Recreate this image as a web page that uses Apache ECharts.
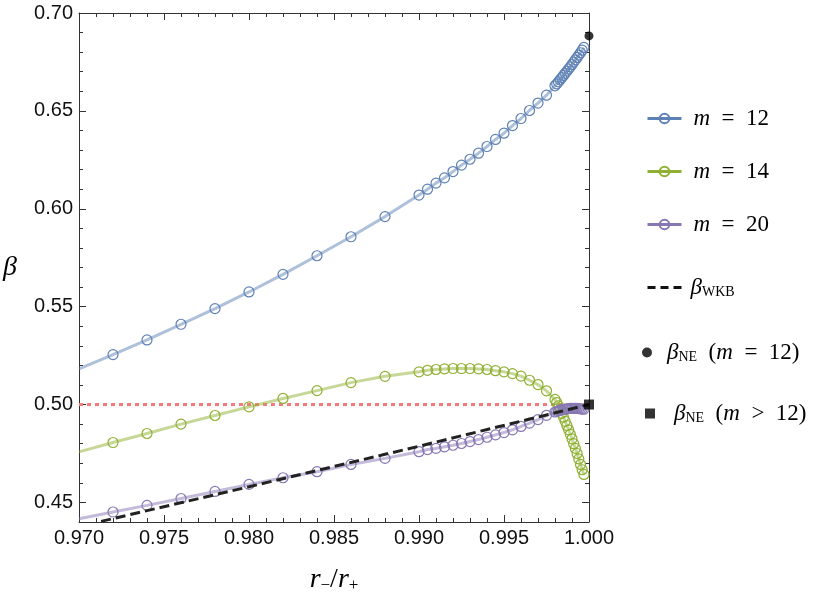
<!DOCTYPE html>
<html>
<head>
<meta charset="utf-8">
<script src="https://cdn.jsdelivr.net/npm/echarts@6/dist/echarts.min.js"></script>
<style>
  html, body { margin: 0; padding: 0; background: #fff; }
  #chart { width: 830px; height: 601px; }
</style>
</head>
<body>
<div id="chart"></div>
<script>
// sample points (same r-/r+ grid for every m)
var xPts = [0.972, 0.974, 0.976, 0.978, 0.980, 0.982, 0.984, 0.986, 0.988, 0.990,
  0.9905, 0.991, 0.9915, 0.992, 0.9925, 0.993, 0.9935, 0.994, 0.9945, 0.995, 0.9955, 0.996, 0.9965, 0.997, 0.9975,
  0.9980, 0.9981, 0.9982, 0.9983, 0.9984, 0.9985, 0.9986, 0.9987, 0.9988, 0.9989,
  0.9990, 0.9991, 0.9992, 0.9993, 0.9994, 0.9995, 0.9996, 0.9997];

var beta12 = [0.5255, 0.5330, 0.5410, 0.5490, 0.5575, 0.5665, 0.5760, 0.5857, 0.5960, 0.6070,
  0.6100, 0.6131, 0.6158, 0.6190, 0.6223, 0.6253, 0.6284, 0.6318, 0.6354, 0.6386, 0.6425, 0.6461, 0.6502, 0.6540, 0.6580,
  0.6628, 0.6638, 0.6648, 0.6659, 0.6670, 0.6681, 0.6692, 0.6703, 0.6714, 0.6725,
  0.6737, 0.6749, 0.6761, 0.6773, 0.6785, 0.6797, 0.6810, 0.6824];

var beta14 = [0.4806, 0.4852, 0.4900, 0.4944, 0.4988, 0.5031, 0.5071, 0.5112, 0.5144, 0.5167,
  0.5175, 0.5179, 0.5182, 0.5184, 0.5184, 0.5184, 0.5182, 0.5179, 0.5173, 0.5167, 0.5158, 0.5145, 0.5124, 0.5102, 0.5070,
  0.5026, 0.5010, 0.4993, 0.4975, 0.4955, 0.4935, 0.4914, 0.4893, 0.4871, 0.4848,
  0.4825, 0.4800, 0.4776, 0.4750, 0.4722, 0.4694, 0.4667, 0.4643];

var beta20 = [0.4451, 0.4485, 0.4520, 0.4556, 0.4592, 0.4626, 0.4657, 0.4694, 0.4725, 0.4759,
  0.4770, 0.4776, 0.4784, 0.4792, 0.4801, 0.4811, 0.4821, 0.4833, 0.4845, 0.4857, 0.4871, 0.4888, 0.4905, 0.4923, 0.4945,
  0.4962, 0.4965, 0.4968, 0.4971, 0.4973, 0.4975, 0.4977, 0.4978, 0.4979, 0.4980,
  0.4980, 0.4980, 0.4980, 0.4980, 0.4979, 0.4978, 0.4977, 0.4976];

// where the fitted curves start at the left frame
var curveStartX = 0.970;
var curveStartY = [0.5182, 0.4758, 0.4417];

var wkbX = [0.9713, 0.980, 0.990, 1.000];
var wkbY = [0.4403, 0.4580, 0.4787, 0.5000];

var halfX = [0.970, 1.000];
var halfY = [0.5, 0.5];

var neDot = [1.000, 0.6883];
var neSquare = [1.000, 0.5000];

var yMajor = [0.45, 0.50, 0.55, 0.60, 0.65, 0.70];
var yMinor = [0.44, 0.46, 0.47, 0.48, 0.49, 0.51, 0.52, 0.53, 0.54, 0.56, 0.57, 0.58, 0.59,
  0.61, 0.62, 0.63, 0.64, 0.66, 0.67, 0.68, 0.69];

var names = ['m12', 'm14', 'm20'];
var mLabels = ['12', '14', '20'];
var colors = ['#5e81b5', '#8fb032', '#8778b3'];
var lineColors = ['rgba(94,129,181,0.5)', 'rgba(143,176,50,0.5)', 'rgba(135,120,179,0.5)'];
var ys = [beta12, beta14, beta20];

var chart = echarts.init(document.getElementById('chart'));

var serif = 'Liberation Serif';
var rich = {
  i: { fontFamily: serif, fontStyle: 'italic', fontSize: 23, lineHeight: 24, color: '#000' },
  n: { fontFamily: serif, fontSize: 23, lineHeight: 24, color: '#000' },
  s: { fontFamily: serif, fontSize: 14, lineHeight: 14, color: '#000', verticalAlign: 'bottom' }
};
var richName = {
  i: { fontFamily: serif, fontStyle: 'italic', fontSize: 28, lineHeight: 28, color: '#000' },
  n: { fontFamily: serif, fontSize: 28, lineHeight: 28, color: '#000' },
  s: { fontFamily: serif, fontSize: 17, lineHeight: 16, color: '#000', verticalAlign: 'bottom' }
};

function legendText(name) {
  if (name === 'wkb') return '{i|β}{s|WKB}';
  if (name === 'ne12') return '{i|β}{s|NE}{n|  (}{i|m}{n|  =  12)}';
  if (name === 'neBig') return '{i|β}{s|NE}{n|  (}{i|m}{n|  >  12)}';
  var k = names.indexOf(name);
  return '{i|m}{n|  =  ' + mLabels[k] + '}';
}

function legendAt(name, left, top, w, h, pad, extra) {
  var l = {
    data: [name], orient: 'vertical', left: left, top: top,
    itemWidth: w, itemHeight: h, selectedMode: false,
    formatter: legendText,
    textStyle: { rich: rich, padding: [0, 0, 0, pad] }
  };
  for (var key in extra) l[key] = extra[key];
  return l;
}

var series = [];

series.push({
  name: 'half', type: 'line', data: halfX.map(function (x, i) { return [x, halfY[i]]; }),
  symbol: 'none', silent: true, z: 1,
  lineStyle: { color: '#f77a7a', width: 3, type: [4, 4] }
});

ys.forEach(function (arr, k) {
  var d = [{ value: [curveStartX, curveStartY[k]], symbol: 'none' }];
  xPts.forEach(function (x, i) { d.push([x, arr[i]]); });
  series.push({
    name: names[k], type: 'line', data: d, z: 2,
    symbol: 'circle', symbolSize: 10, showSymbol: true, showAllSymbol: true,
    lineStyle: { color: lineColors[k], width: 3 },
    itemStyle: { color: 'rgba(255,255,255,0)', borderColor: colors[k], borderWidth: 1.2 },
    emphasis: { disabled: true }
  });
});

series.push({
  name: 'wkb', type: 'line', data: wkbX.map(function (x, i) { return [x, wkbY[i]]; }),
  symbol: 'none', z: 3,
  itemStyle: { color: 'rgba(0,0,0,0)' },
  lineStyle: { color: '#222', width: 3, type: [10, 5] }
});

series.push({
  name: 'ne12', type: 'scatter', data: [neDot], symbol: 'circle', symbolSize: 9, z: 4,
  itemStyle: { color: '#000' }
});
series.push({
  name: 'neBig', type: 'scatter', data: [neSquare], symbol: 'rect', symbolSize: 10, z: 4,
  itemStyle: { color: '#000' }
});

var frame = { show: true, lineStyle: { color: '#333', width: 1 } };
var tickStyle = { color: '#333', width: 1 };

var option = {
  animation: false,
  backgroundColor: '#fff',
  grid: { left: 79, right: 241, top: 13, bottom: 79 },
  legend: [
    legendAt('m12', 641, 102, 34, 12, 7, { lineStyle: { color: colors[0], width: 3 } }),
    legendAt('m14', 641, 155, 34, 12, 7, { lineStyle: { color: colors[1], width: 3 } }),
    legendAt('m20', 641, 208, 34, 12, 7, { lineStyle: { color: colors[2], width: 3 } }),
    legendAt('wkb', 641, 271, 34, 12, 4, {
      lineStyle: { color: '#111', width: 3, type: [8, 5] },
      itemStyle: { color: 'rgba(0,0,0,0)', borderWidth: 0 }
    }),
    legendAt('ne12', 637, 336, 14, 10, 8, {}),
    legendAt('neBig', 640, 397, 10, 10, 14, {})
  ],
  xAxis: [{
    type: 'value', position: 'bottom', min: 0.97, max: 1.0, interval: 0.005,
    axisLine: frame,
    axisTick: { inside: true, length: 7, lineStyle: tickStyle },
    minorTick: { show: true, splitNumber: 5, length: 4, lineStyle: tickStyle },
    splitLine: { show: false },
    axisLabel: {
      formatter: function (v) { return v.toFixed(3); },
      fontFamily: 'Liberation Sans', fontSize: 20, color: '#111', margin: 6
    },
    name: '{i|r}{s|−}{n|/}{i|r}{s|+}',
    nameLocation: 'middle', nameGap: 44,
    nameTextStyle: { rich: richName }
  }, {
    type: 'value', position: 'top', min: 0.97, max: 1.0, interval: 0.005,
    axisLine: frame,
    axisTick: { inside: true, length: 7, lineStyle: tickStyle },
    minorTick: { show: true, splitNumber: 5, length: 4, lineStyle: tickStyle },
    splitLine: { show: false },
    axisLabel: { show: false }
  }],
  yAxis: [{
    type: 'value', position: 'left', min: 0.44, max: 0.70,
    axisLine: frame,
    axisTick: { inside: true, length: 7, lineStyle: tickStyle, customValues: yMajor },
    splitLine: { show: false },
    axisLabel: {
      customValues: yMajor,
      formatter: function (v) { return v.toFixed(2); },
      fontFamily: 'Liberation Sans', fontSize: 20, color: '#111', margin: 6
    },
    name: '{i|β}',
    nameLocation: 'middle', nameGap: 62, nameRotate: 0,
    nameTextStyle: { rich: richName }
  }, {
    type: 'value', position: 'left', min: 0.44, max: 0.70,
    axisLine: { show: false },
    axisTick: { inside: true, length: 4, lineStyle: tickStyle, customValues: yMinor },
    splitLine: { show: false },
    axisLabel: { show: false }
  }, {
    type: 'value', position: 'right', min: 0.44, max: 0.70,
    axisLine: frame,
    axisTick: { inside: true, length: 7, lineStyle: tickStyle, customValues: yMajor },
    splitLine: { show: false },
    axisLabel: { show: false }
  }, {
    type: 'value', position: 'right', min: 0.44, max: 0.70,
    axisLine: { show: false },
    axisTick: { inside: true, length: 4, lineStyle: tickStyle, customValues: yMinor },
    splitLine: { show: false },
    axisLabel: { show: false }
  }],
  series: series
};

chart.setOption(option);
window.addEventListener('resize', function () {
  chart.resize();
});
</script>
</body>
</html>
